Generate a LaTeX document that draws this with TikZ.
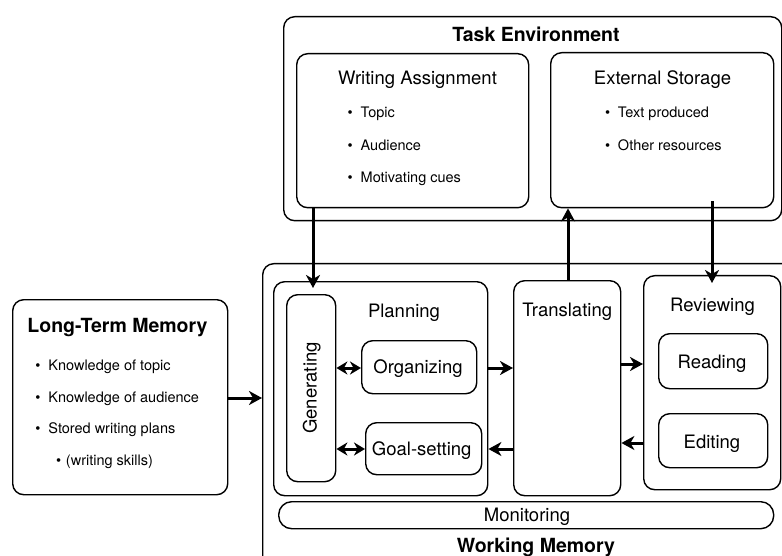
\documentclass[tikz,border=0pt]{standalone}
\usepackage{fontspec}
\setmainfont{TeX Gyre Heros}
\usetikzlibrary{arrows.meta,calc}
\newcommand\itemb[2][13pt]{\makebox[#1][l]{\textbullet}#2}
\begin{document}
\begin{tikzpicture}[x=1pt,y=-1pt,
  box/.style={draw, rounded corners=11pt, line width=1.4pt, inner sep=0pt, anchor=north west},
  ttl/.style={font=\fontsize{19.5}{23}\selectfont\bfseries, anchor=base, inner sep=0pt},
  lbl/.style={font=\fontsize{18.5}{22}\selectfont, anchor=base, inner sep=0pt},
  itm/.style={font=\fontsize{14.5}{17}\selectfont, anchor=base west, inner sep=0pt},
  arr/.style={line width=3pt, -{Stealth[length=13pt,width=14pt,inset=4pt]}},
  dbl/.style={line width=3pt, {Stealth[length=11pt,width=13pt,inset=3.5pt]}-{Stealth[length=11pt,width=13pt,inset=3.5pt]}}]
\useasboundingbox (0,0) rectangle (782,556);
\clip (0,0) rectangle (782,556);

% Task environment
\node[box, minimum width=498pt, minimum height=204pt] (te) at (283,16) {};
\node[ttl] (tet) at (536,42) {Task Environment};
\node[box, minimum width=232pt, minimum height=154pt] (wa) at (296,53) {};
\node[lbl] (wat) at (417.5,85) {Writing Assignment};
\node[itm] (wa1) at (347.5,117.7) {\itemb{Topic}};
\node[itm] (wa2) at (347.5,150.2) {\itemb{Audience}};
\node[itm] (wa3) at (347.5,182.2) {\itemb{Motivating cues}};
\node[box, minimum width=223pt, minimum height=155pt] (es) at (550,52) {};
\node[lbl] (est) at (662.5,85) {External Storage};
\node[itm] (es1) at (604.8,117.7) {\itemb{Text produced}};
\node[itm] (es2) at (604.8,150.2) {\itemb{Other resources}};

% Long-term memory
\node[box, minimum width=215pt, minimum height=195pt] (ltm) at (12,299) {};
\node[ttl] (ltmt) at (117.5,332) {Long-Term Memory};
\node[itm] (l1) at (35.2,370.5) {\itemb{Knowledge of topic}};
\node[itm] (l2) at (35.2,402) {\itemb{Knowledge of audience}};
\node[itm] (l3) at (35.2,433.5) {\itemb{Stored writing plans}};
\node[itm] (l4) at (55.8,465.5) {\itemb[10pt]{(writing skills)}};

% Working memory
\node[box, minimum width=540pt, minimum height=330pt] (wm) at (262,263) {};
\node[ttl] (wmt) at (536,552) {Working Memory};
\node[box, minimum width=214pt, minimum height=214pt] (pl) at (273,281) {};
\node[lbl] (plt) at (404,317) {Planning};
\node[box, minimum width=49pt, minimum height=187pt] (gen) at (286,294) {};
\node[lbl, rotate=90] (gent) at (316.7,388) {Generating};
\node[box, minimum width=115pt, minimum height=53pt] (org) at (361,340) {};
\node[lbl] (orgt) at (418,373.7) {Organizing};
\node[box, minimum width=116pt, minimum height=52pt] (goal) at (365,422) {};
\node[lbl] (goalt) at (421.7,455.5) {Goal-setting};
\node[box, minimum width=107pt, minimum height=215pt] (tr) at (513,280) {};
\node[lbl] (trt) at (567.2,316.7) {Translating};
\node[box, minimum width=137pt, minimum height=214pt] (rev) at (643,275) {};
\node[lbl] (revt) at (712.5,311.5) {Reviewing};
\node[box, minimum width=109pt, minimum height=55pt] (read) at (658,333) {};
\node[lbl] (readt) at (712,368) {Reading};
\node[box, minimum width=109pt, minimum height=54pt] (edit) at (658,413) {};
\node[lbl] (editt) at (712,448) {Editing};
\node[box, rounded corners=13pt, minimum width=495pt, minimum height=27pt] (mon) at (278,501) {};
\node[lbl] (mont) at (527,521.5) {Monitoring};

% level coordinates
\coordinate (xa) at (313,0);
\coordinate (xb) at (568,0);
\coordinate (xc) at (712,0);
\coordinate (ya) at (0,368);
\coordinate (yb) at (0,449);
\coordinate (yc) at (0,364);
\coordinate (yd) at (0,443);
\coordinate (ye) at (0,398);

% arrows
\draw[arr, shorten >=6pt] (wa.south -| xa) -- (gen.north -| xa);
\draw[arr] (tr.north -| xb) -- (es.south -| xb);
\draw[arr, shorten >=-8pt] ($(es.south -| xc)+(0,-7)$) -- (rev.north -| xc);
\draw[dbl] (gen.east |- ya) -- (org.west |- ya);
\draw[dbl] (gen.east |- yb) -- (goal.west |- yb);
\draw[arr] (pl.east |- ya) -- (tr.west |- ya);
\draw[arr] (tr.west |- yb) -- (pl.east |- yb);
\draw[arr] (tr.east |- yc) -- (rev.west |- yc);
\draw[arr] (rev.west |- yd) -- (tr.east |- yd);
\draw[arr] (ltm.east |- ye) -- (wm.west |- ye);
\end{tikzpicture}
\end{document}
